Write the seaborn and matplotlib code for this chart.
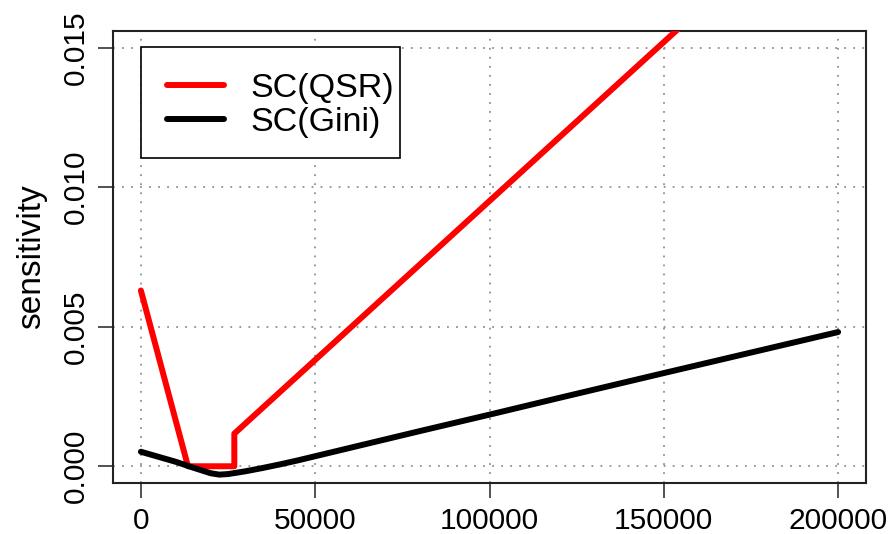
import matplotlib
matplotlib.use("Agg")
import matplotlib.pyplot as plt
import seaborn as sns
import pandas as pd
import numpy as np
from matplotlib.lines import Line2D
from matplotlib.patches import Rectangle

# data
qsr_x = [0, 13500, 26800, 26800, 200000]
qsr_y = [0.0063, 0.0, 0.0, 0.00117, 0.0209]

gini_x = [0, 5000, 10000, 15000, 20000, 22500, 25000, 30000, 35000, 40000,
          45000, 50000, 60000, 80000, 100000, 120000, 150000, 200000]
gini_y = [0.00052, 0.00034, 0.00016, -0.00005, -0.00025, -0.0003, -0.00028,
          -0.00018, -0.00006, 0.00007, 0.00021, 0.00036, 0.00066, 0.00126,
          0.00185, 0.00245, 0.00334, 0.00481]

x_ticks = [0, 50000, 100000, 150000, 200000]
y_ticks = [0.000, 0.005, 0.010, 0.015]
series_names = ["SC(QSR)", "SC(Gini)"]
series_colors = ["#ff0000", "#000000"]

df = pd.concat([
    pd.DataFrame({"x": qsr_x, "y": qsr_y, "series": series_names[0]}),
    pd.DataFrame({"x": gini_x, "y": gini_y, "series": series_names[1]}),
], ignore_index=True)

sns.set_style("white")
plt.rcParams["font.family"] = ["Liberation Sans", "DejaVu Sans"]
plt.rcParams["text.color"] = "black"
plt.rcParams["axes.labelcolor"] = "black"
plt.rcParams["xtick.color"] = "black"
plt.rcParams["ytick.color"] = "black"

fig = plt.figure(figsize=(8.93, 5.34), dpi=100)
ax = fig.add_axes([113/893, 1-483/534, (866-113)/893, (483-31)/534])

ax.set_xlim(-8000, 208000)
ax.set_ylim(-0.0006, 0.0156)

# grid
for xv in x_ticks:
    ax.axvline(xv, color="#909090", lw=1.3, ls=(0, (1, 4)), zorder=1)
for yv in y_ticks:
    ax.axhline(yv, color="#909090", lw=1.3, ls=(0, (1, 4)), zorder=1)

sns.lineplot(data=df, x="x", y="y", hue="series", units="series", sort=False,
             estimator=None, palette=dict(zip(series_names, series_colors)),
             linewidth=4.3, ax=ax, legend=False, zorder=3)
for ln in ax.get_lines():
    ln.set_solid_capstyle("round")
    ln.set_solid_joinstyle("round")

ax.set_xticks(x_ticks)
ax.set_xticklabels([str(v) for v in x_ticks])
ax.set_yticks(y_ticks)
ax.set_yticklabels([f"{v:.3f}" for v in y_ticks], rotation=90, va="center")
ax.tick_params(axis="both", which="major", direction="out", length=11, width=1.2,
               color="#333333", labelcolor="black", labelsize=21.5, left=True, bottom=True)
ax.tick_params(axis="x", pad=6)
ax.tick_params(axis="y", pad=6)
ax.set_xlabel("")
ax.set_ylabel("sensitivity", fontsize=24, labelpad=10, color="black")

for sp in ax.spines.values():
    sp.set_visible(True)
    sp.set_color("#222222")
    sp.set_linewidth(1.5)

# legend frame (R style: box placed at top-left)
frame = Rectangle((28/753, (483-158)/452), 259/753, 111/452, transform=ax.transAxes,
                  facecolor="white", edgecolor="black", lw=1.2, zorder=5)
ax.add_patch(frame)

handles = [Line2D([], [], color=c, lw=4.3, solid_capstyle="round") for c in series_colors]
leg = ax.legend(handles, series_names, loc="upper left",
                bbox_to_anchor=((167-113)/753, (483-73)/452), borderaxespad=0,
                fontsize=24.5, frameon=False, handlelength=1.68, handletextpad=0.78,
                borderpad=0, labelspacing=0.08)
leg.set_zorder(6)
for t in leg.get_texts():
    t.set_color("black")

fig.savefig("out.png", dpi=100)
